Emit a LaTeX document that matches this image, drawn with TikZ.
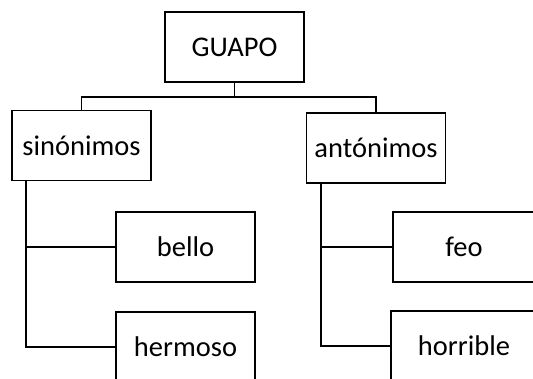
\documentclass[tikz,border=0pt]{standalone}
\usepackage{fontspec}
\setmainfont{Carlito}
\begin{document}
\begin{tikzpicture}[x=1bp,y=-1bp,
  box/.style={draw=black, line width=1.6bp, rectangle, minimum width=139bp, minimum height=70bp, inner sep=0pt, font=\fontsize{28.5bp}{34bp}\selectfont},
  conn/.style={draw=black, line width=1.6bp}]
\useasboundingbox (0,0) rectangle (533,378);
\clip (0,0) rectangle (533,378);
\node[box] (guapo) at (234.5,47) {GUAPO};
\node[box] (sin) at (81.5,145.5) {sinónimos};
\node[box] (ant) at (376,148) {antónimos};
\node[box] (bello) at (185.5,247) {bello};
\node[box] (hermoso) at (185.5,347) {hermoso};
\node[box, minimum width=142bp] (feo) at (464,247) {feo};
\node[box, minimum width=146bp] (horrible) at (464,346) {horrible};
\coordinate (mid) at (234.5,97);
\coordinate (ls) at (26,181);
\coordinate (rs) at (321,183);
\draw[conn] (guapo.south) -- (mid) -| (sin.north);
\draw[conn] (mid) -| (ant.north);
\draw[conn] (ls) |- (bello.west);
\draw[conn] (ls) |- (hermoso.west);
\draw[conn] (rs) |- (feo.west);
\draw[conn] (rs) |- (horrible.west);
\end{tikzpicture}
\end{document}
